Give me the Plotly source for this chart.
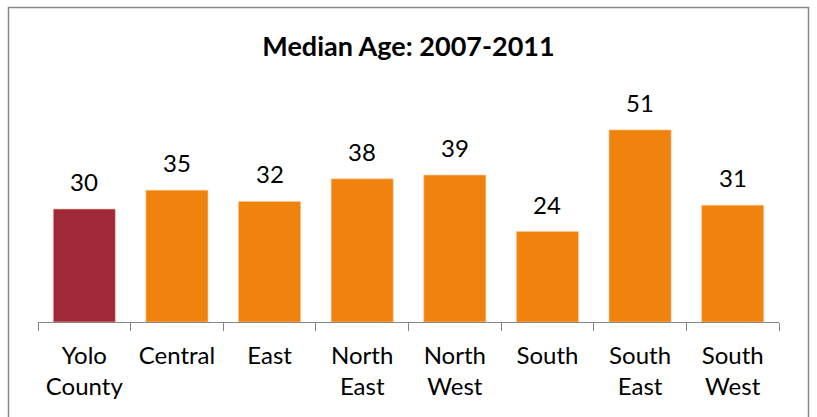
import plotly.graph_objects as go

categories = ["Yolo<br>County", "Central", "East", "North<br>East", "North<br>West",
              "South", "South<br>East", "South<br>West"]
median_age = [30, 35, 32, 38, 39, 24, 51, 31]
bar_colors = ["#A02839", "#F0820E", "#F0820E", "#F0820E", "#F0820E",
              "#F0820E", "#F0820E", "#F0820E"]

FONT = "Lato"

fig = go.Figure()
fig.add_trace(go.Bar(
    x=categories,
    y=median_age,
    marker=dict(color=bar_colors, line=dict(color="rgba(255,200,150,0.6)", width=1)),
    hoverinfo="x+y",
))

annotations = [
    dict(x=c, y=v, xref="x", yref="y", text=str(v), showarrow=False,
         yanchor="bottom", yshift=11, font=dict(family=FONT, size=24, color="#000000"))
    for c, v in zip(categories, median_age)
]

# plot area: x 38..779, y 96..322
L, R, T, B = 38, 38, 96, 95
W, H = 817, 417
pw, ph = W - L - R, H - T - B
bx0 = (8.5 - L) / pw
bx1 = (808.5 - L) / pw
by1 = (H - B - 7.5) / ph

fig.update_layout(
    width=W, height=H,
    margin=dict(l=L, r=R, t=T, b=B),
    paper_bgcolor="white",
    plot_bgcolor="white",
    showlegend=False,
    bargap=0.33,
    title=dict(text="<b>Median Age: 2007-2011</b>", x=0.5, xref="paper",
               xanchor="center", y=1 - 47 / H, yanchor="middle",
               font=dict(family=FONT, size=27, color="#000000")),
    annotations=annotations,
    shapes=[dict(type="rect", xref="paper", yref="paper", x0=bx0, x1=bx1,
                 y0=-1.0, y1=by1, line=dict(color="#878787", width=1.5),
                 fillcolor="rgba(0,0,0,0)", layer="below")],
    xaxis=dict(
        showline=True, linecolor="#868686", linewidth=1,
        ticks="outside", tickson="boundaries", ticklen=8, tickcolor="#868686",
        tickwidth=1, showgrid=False, zeroline=False,
        ticklabelstandoff=12,
        tickfont=dict(family=FONT, size=24, color="#000000"),
        fixedrange=True,
    ),
    yaxis=dict(visible=False, range=[0, 60], fixedrange=True),
)

fig.write_html(
    "out.html",
    config={"displayModeBar": False},
    post_script="document.body.style.margin='0';document.body.style.overflow='hidden';",
)
